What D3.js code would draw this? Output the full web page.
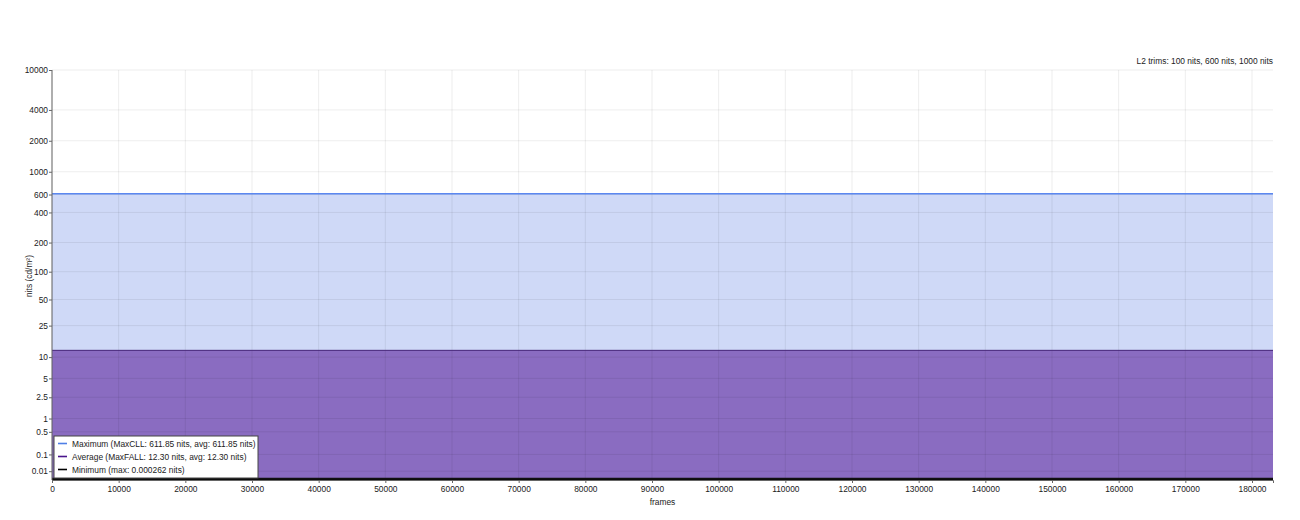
<!DOCTYPE html>
<html><head><meta charset="utf-8">
<script src="https://cdn.jsdelivr.net/npm/d3@7"></script>
<style>
body{margin:0;background:#fff;}
text{font-family:"Liberation Sans",Arial,sans-serif;}
</style></head>
<body>
<svg id="chart" width="1300" height="520"></svg>
<script>
// ---- data ----
const frames = [0, 183150];
const maxValues = [611.85, 611.85];
const avgValues = [12.30, 12.30];
const minValues = [0.000262, 0.000262];
const yTicks = [0.01, 0.1, 0.5, 1, 2.5, 5, 10, 25, 50, 100, 200, 400, 600, 1000, 2000, 4000, 10000];
const xTicks = [0,10000,20000,30000,40000,50000,60000,70000,80000,90000,100000,110000,120000,130000,140000,150000,160000,170000,180000];
const legendLabels = [
  "Maximum (MaxCLL: 611.85 nits, avg: 611.85 nits)",
  "Average (MaxFALL: 12.30 nits, avg: 12.30 nits)",
  "Minimum (max: 0.000262 nits)"
];
const titleText = "L2 trims: 100 nits, 600 nits, 1000 nits";

// PQ transform
const m1 = 0.1593017578125, m2 = 78.84375, c1 = 0.8359375, c2 = 18.8515625, c3 = 18.6875;
function pq(L){ const Y = Math.pow(Math.max(L,0)/10000, m1); return Math.pow((c1 + c2*Y)/(1 + c3*Y), m2); }

const svg = d3.select("#chart");
const margin = {left:52, right:27, top:70, bottom:40};
const W = 1300, H = 520;
const plotR = W - margin.right, plotB = H - margin.bottom;
const FS = "8.4px";

const x = d3.scaleLinear().domain([0, frames[frames.length-1]]).range([margin.left, plotR]);
const yLin = d3.scaleLinear().domain([0, 1]).range([plotB, margin.top]);
const y = v => yLin(pq(v));

const data = frames.map((f,i)=>({f, max:maxValues[i], avg:avgValues[i], min:minValues[i]}));
function area(key){ return d3.area().x(d=>x(d.f)).y0(plotB).y1(d=>y(d[key])); }
function line(key){ return d3.line().x(d=>x(d.f)).y(d=>y(d[key])); }

svg.append("path").datum(data).attr("d", area("max")).attr("fill", "rgba(65,105,225,0.25)");
svg.append("path").datum(data).attr("d", area("avg")).attr("fill", "rgba(95,40,160,0.62)");
svg.append("path").datum(data).attr("d", area("min")).attr("fill", "#000");

// grid
const g = svg.append("g");
g.selectAll("line.hg").data(yTicks).enter().append("line")
  .attr("x1", margin.left).attr("x2", plotR)
  .attr("y1", d=>y(d)).attr("y2", d=>y(d))
  .attr("stroke", "rgba(0,0,0,0.07)").attr("stroke-width", 1);
g.selectAll("line.vg").data(xTicks).enter().append("line")
  .attr("x1", d=>x(d)).attr("x2", d=>x(d))
  .attr("y1", margin.top).attr("y2", plotB)
  .attr("stroke", "rgba(0,0,0,0.07)").attr("stroke-width", 1);

svg.append("path").datum(data).attr("d", line("max")).attr("fill","none").attr("stroke","#5b87f0").attr("stroke-width",1.5);
svg.append("path").datum(data).attr("d", line("avg")).attr("fill","none").attr("stroke","#452377").attr("stroke-width",1);
svg.append("path").datum(data).attr("d", line("min")).attr("fill","none").attr("stroke","#111").attr("stroke-width",2);

// y axis
const yAxisScale = d3.scaleLinear().domain([0,1]).range([plotB, margin.top]);
const yAxis = svg.append("g").attr("transform", `translate(${margin.left},0)`)
  .call(d3.axisLeft(yAxisScale).tickValues(yTicks.map(pq)).tickSize(3).tickFormat((d,i)=>String(yTicks[i])));
yAxis.select(".domain").attr("stroke","#666").attr("d", `M0,${margin.top}V${plotB}`);
yAxis.selectAll(".tick line").attr("stroke","#666");
yAxis.selectAll("text").attr("font-size",FS).attr("fill","#222").attr("x",-4).attr("font-family","Liberation Sans, Arial, sans-serif");

// x axis
const xAxis = svg.append("g").attr("transform", `translate(0,${plotB})`)
  .call(d3.axisBottom(x).tickValues(xTicks).tickSize(3).tickFormat(d=>String(d)));
xAxis.select(".domain").attr("stroke","#666");
xAxis.selectAll(".tick line").attr("stroke","#666");
xAxis.selectAll("text").attr("font-size",FS).attr("fill","#222").attr("y",6).attr("font-family","Liberation Sans, Arial, sans-serif");

// labels
svg.append("text").attr("x", (margin.left+plotR)/2).attr("y", 505).attr("text-anchor","middle")
  .attr("font-size",FS).attr("fill","#222").text("frames");
svg.append("text").attr("transform","translate(32,276) rotate(-90)").attr("text-anchor","middle")
  .attr("font-size",FS).attr("fill","#222").text("nits (cd/m²)");
svg.append("text").attr("x", plotR).attr("y", 64).attr("text-anchor","end")
  .attr("font-size",FS).attr("fill","#222").text(titleText);

// legend
const colors = ["#4f7fe6","#4a148c","#000"];
const lg = svg.append("g").attr("transform","translate(54,436)");
lg.append("rect").attr("width",204).attr("height",42).attr("fill","#fff").attr("stroke","#444").attr("stroke-width",1);
legendLabels.forEach((t,i)=>{
  lg.append("line").attr("x1",4).attr("x2",13).attr("y1",7.5+i*13).attr("y2",7.5+i*13).attr("stroke",colors[i]).attr("stroke-width",1.6);
  lg.append("text").attr("x",18).attr("y",10.5+i*13).attr("font-size",FS).attr("fill","#222").text(t);
});
</script>
</body></html>
